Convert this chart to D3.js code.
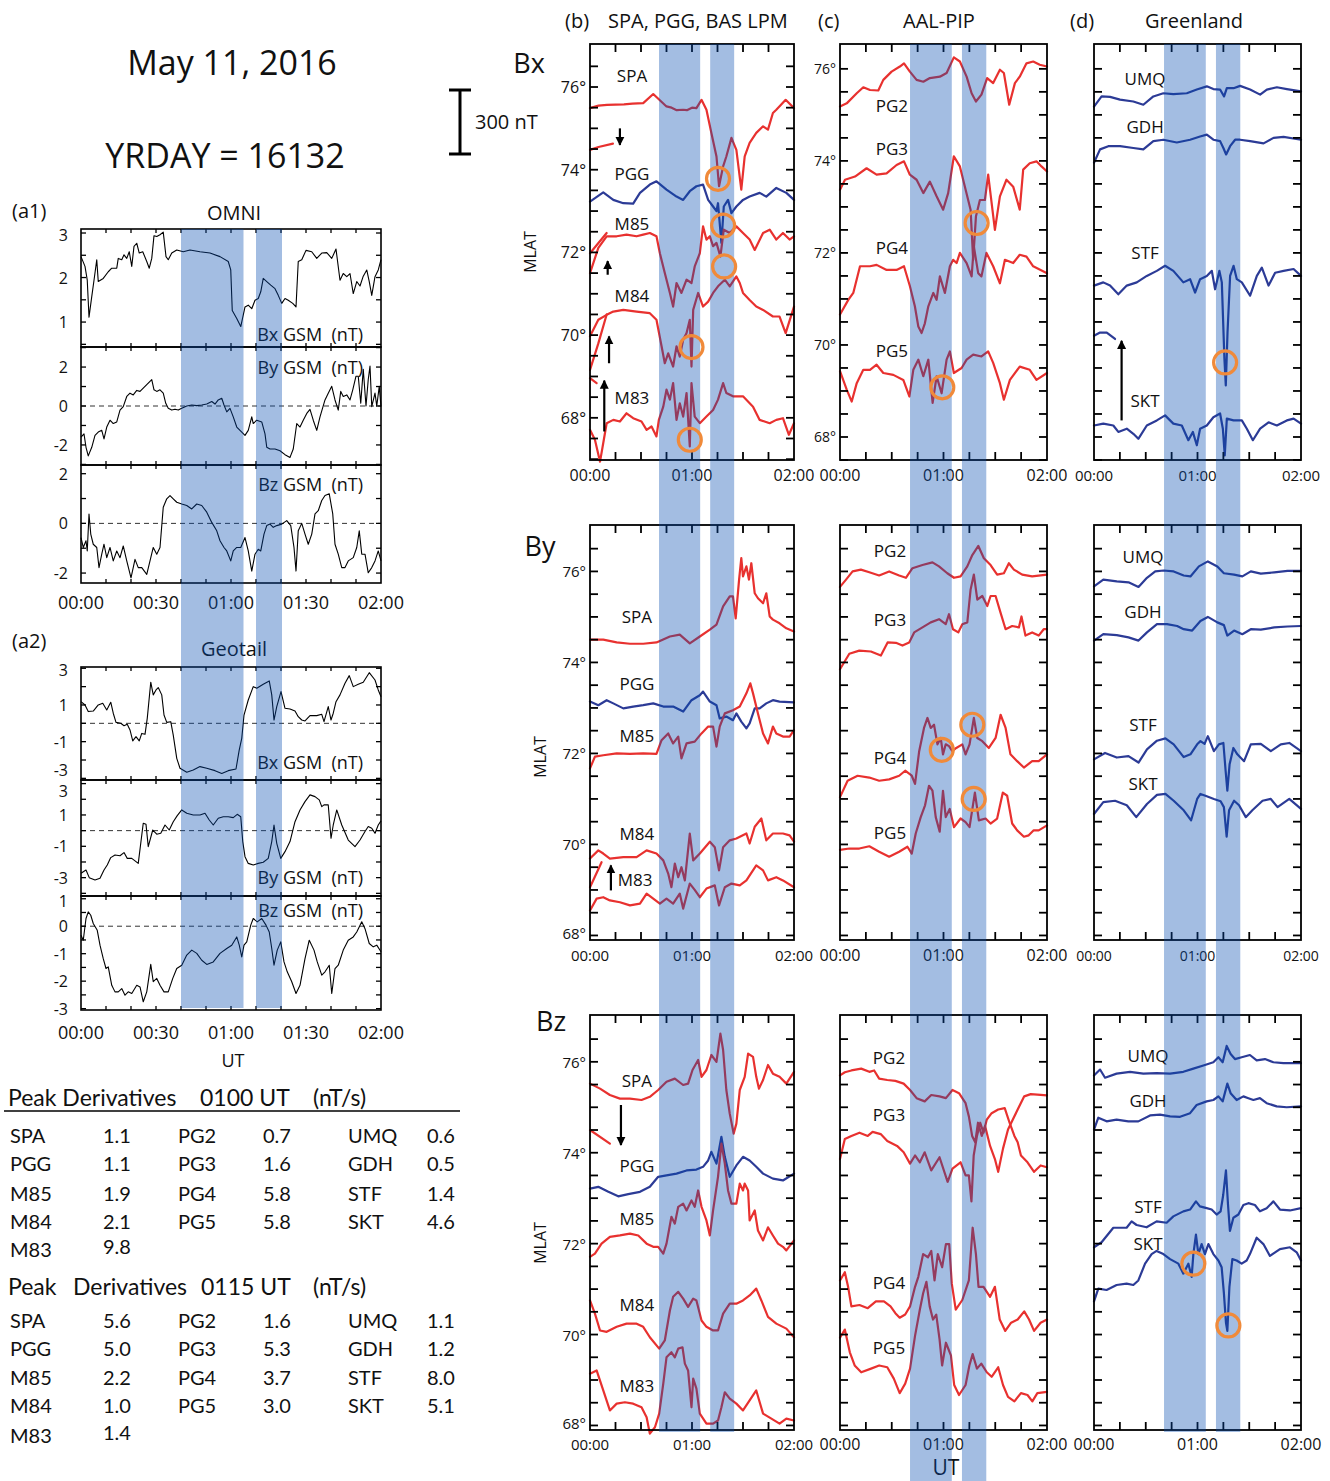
<!DOCTYPE html>
<html><head><meta charset="utf-8">
<script src="https://cdnjs.cloudflare.com/ajax/libs/d3/7.8.5/d3.min.js"></script>
<style>body{margin:0;background:#fff} text{white-space:pre}</style>
</head><body><script>
// ---------- time axes (minutes after 00:00 UT) ----------
const timeTicks = [0, 60, 120];
const timeTickLabels = ["00:00", "01:00", "02:00"];
const omniTicks = [0, 30, 60, 90, 120];
const omniTickLabels = ["00:00", "00:30", "01:00", "01:30", "02:00"];
const leftBands = [[40, 65], [70, 80.4]];
const rightBands = [[40.6, 64.8], [70.7, 84.8]];
const latLabelValues = [68, 70, 72, 74, 76];

// ---------- OMNI (a1) GSM components, nT ----------
const omniBx = [[0,2.47],[1.6,2.25],[2.5,1.94],[3.2,1.11],[4.3,1.57],[5.2,1.94],[6.3,2.4],[6.9,1.91],[8.9,1.98],[10.9,2.13],[12.3,2.21],[14.3,2.21],[14.9,2.43],[16.3,2.4],[17.2,2.51],[18.3,2.43],[19.3,2.58],[20.3,2.25],[21.2,2.7],[22.3,2.77],[23.3,2.55],[24.7,2.58],[26.3,2.36],[27.3,2.21],[28.3,2.43],[29.2,2.94],[30.3,2.92],[31.6,2.96],[32.9,3.02],[34,2.47],[34.9,2.4],[36.3,2.55],[38.3,2.62],[40.9,2.58],[43.6,2.62],[47.6,2.58],[51.6,2.55],[55.6,2.47],[58.9,2.36],[59.9,2.17],[60.5,1.26],[62.3,1.08],[63.9,0.9],[65.6,1.34],[66.9,1.38],[68.3,1.3],[69.6,1.49],[70.9,1.53],[71.9,1.68],[72.9,1.98],[74.3,1.91],[75.9,1.83],[77.6,1.75],[78.9,1.6],[80.3,1.42],[81.6,1.53],[82.9,1.49],[84.7,1.42],[86,1.34],[86.9,2.36],[88.3,2.4],[90,2.61],[92.3,2.58],[94.3,2.43],[96.3,2.55],[98.3,2.56],[100.3,2.43],[102,2.64],[103.6,1.94],[104.9,2.09],[106.3,2.02],[107.6,2.09],[108.9,1.64],[110.3,1.91],[111.6,1.81],[112.9,2.03],[114.3,2.17],[115.3,1.91],[116.3,1.6],[117.6,2.02],[118.9,2.17],[120,2.4]];
const omniBy = [[0,-1.6],[1.2,-1.43],[2,-2.12],[2.9,-2.56],[4.3,-2.12],[5.6,-1.51],[6.9,-1.34],[8.3,-1.25],[9.2,-1.69],[10.3,-1.08],[11.6,-0.73],[12.9,-0.9],[14.3,-0.82],[15.6,-0.21],[16.9,-0.03],[18.3,0.49],[19.6,0.66],[20.9,0.57],[22.3,0.8],[23.6,0.75],[24.9,0.92],[26.3,1.1],[27.6,1.27],[28.3,1.36],[29.2,0.83],[30.3,0.75],[31.6,0.83],[32.9,0.66],[33.9,0.14],[34.9,-0.12],[36.3,-0.21],[37.6,-0.17],[38.9,-0.21],[40.3,-0.12],[42.3,0],[44.3,0.05],[46.3,0.02],[48.3,0.05],[50.3,0.1],[52.3,0.23],[53.6,0.1],[54.9,0.31],[56.3,0.4],[57.2,0.05],[58.3,-0.3],[59.6,-0.12],[60.9,-0.56],[62.3,-1.08],[63.6,-1.25],[65.6,-1.51],[66.9,-1.25],[68.3,-0.56],[68.9,-0.9],[70.3,-0.73],[72.3,-0.82],[73.6,-1.43],[74.3,-2.12],[75.6,-2.21],[77.6,-2.21],[79.6,-2.3],[81.6,-2.5],[83.6,-2.64],[84.9,-2.21],[86.3,-0.9],[87.6,-1.08],[88.9,-0.73],[90.3,-0.38],[91.6,-0.17],[92.9,-0.73],[94.3,-1.25],[95.6,-0.56],[97.6,0.31],[98.9,0.66],[100.3,1.01],[101.6,0.31],[102.9,-0.21],[103.9,0.75],[104.9,0.49],[106.3,0.57],[107.6,0.31],[108.7,0.83],[110,1.53],[110.9,1.53],[111.9,0.14],[112.9,1.88],[114,0],[114.9,1.36],[115.6,2.05],[116.3,-0.03],[117.6,0.66],[118.3,0],[119.3,1.01],[120,-0.03]];
const omniBz = [[0,-0.57],[0.9,-0.97],[2,-0.7],[2.5,-1.11],[3.2,0.38],[3.9,-0.43],[4.9,-0.84],[6.3,-0.97],[7.2,-1.78],[8.3,-1.24],[9.2,-0.84],[10.3,-1.38],[11.6,-0.97],[12.9,-1.51],[14.3,-1.11],[15.6,-1.38],[16.9,-0.91],[18.3,-1.51],[20,-2.19],[21.6,-1.45],[22.9,-1.78],[24.3,-1.78],[26.3,-2.05],[27.6,-1.51],[28.9,-0.97],[30.3,-1.24],[31.6,-0.97],[32.9,0.65],[34.3,0.99],[35.6,1.12],[36.9,0.99],[38.3,0.85],[40.3,0.78],[42.3,0.72],[44.3,0.58],[46.3,0.78],[48.3,0.72],[50.3,0.45],[52.3,0.04],[54.3,-0.3],[55.6,-0.7],[57.2,-0.97],[58.3,-1.11],[59.9,-1.51],[60.9,-1.11],[62.3,-0.97],[63.9,-0.97],[65.6,-0.57],[66.9,-1.11],[68.3,-1.92],[69.6,-1.24],[70.9,-1.04],[71.9,-1.11],[73.2,-0.43],[74.3,-0.09],[75.6,-0.03],[76.9,-0.16],[78.3,-0.09],[80.3,-0.03],[82.3,0.11],[83.9,-0.09],[85.2,-0.97],[86,-1.92],[86.9,-0.3],[88.3,0],[89.6,-0.43],[90.9,-0.84],[92.3,-0.43],[93.6,0.38],[94.9,0.51],[96.3,0.92],[97.6,1.12],[99.3,1.19],[100.7,0.38],[101.6,-0.84],[102.9,-1.24],[104.3,-1.78],[105.6,-1.78],[106.9,-1.51],[108.9,-1.38],[110.3,-0.97],[111.3,-0.3],[112.3,-1.24],[113.6,-1.24],[114.9,-1.99],[116.3,-1.78],[117.6,-1.51],[118.9,-1.11],[120,-1.51]];

// ---------- Geotail (a2) GSM components, nT ----------
const geoBx = [[0,1.18],[1.6,1.0],[2.9,0.64],[4.9,0.67],[6.9,1.0],[8.7,1.09],[10.3,0.73],[11.9,1.15],[12.9,0.55],[14,0.05],[15.9,0],[17.2,-0.13],[18.5,-0.05],[19.6,-0.36],[20.7,-0.96],[22,-0.73],[23.3,-0.96],[24.3,-0.55],[25.6,-0.6],[26.5,0.27],[27.9,2.24],[28.9,1.55],[30,1.82],[30.9,1.95],[32.3,1.55],[33.2,0.45],[34.3,0.05],[35.9,0.09],[36.9,-0.64],[38.3,-1.91],[39.6,-2.45],[42.3,-2.67],[44.9,-2.55],[47.6,-2.36],[50.3,-2.45],[53.6,-2.58],[56.3,-2.73],[58.9,-2.58],[62,-2.49],[63.3,-1.45],[64.3,-0.82],[65.2,0.45],[66.9,1.27],[68.9,2.0],[70.3,1.91],[72.9,2.13],[75.3,2.31],[76.3,1.55],[77.2,0.18],[78.3,0.91],[80,1.73],[81.6,0.82],[83.6,0.78],[85.6,0.67],[86.9,0.36],[88.3,0.18],[89.6,0.13],[91.6,0.42],[94.3,0.42],[96.3,0.49],[97.2,0.09],[98.9,0.91],[100,0.18],[100.9,0.55],[102,1.18],[103.6,1.55],[105.6,2.18],[107.3,2.6],[108.9,2.0],[110.9,2.13],[112.9,2.24],[115.3,2.76],[117.6,2.36],[118.9,1.82],[120,1.45]];
const geoBy = [[0,-2.72],[2,-2.51],[3.3,-3.0],[5.6,-3.15],[7.6,-3.04],[9.2,-2.51],[10.5,-2.19],[11.9,-1.72],[13.6,-1.55],[15.6,-1.6],[17.2,-1.4],[18.5,-1.77],[20.3,-1.77],[22,-1.98],[22.9,-2.09],[24.9,0.47],[26,0.4],[26.9,-1.02],[28.7,0.04],[30.3,-0.23],[31.9,-0.17],[33.6,0.36],[35.3,0.04],[36.9,0.57],[38.5,0.96],[40.3,1.32],[42.3,1.11],[44.9,1.0],[47.6,1.0],[49.6,1.11],[51.3,0.68],[52.9,0.36],[54.9,0.79],[56.9,0.89],[58.9,0.89],[60.9,0.83],[62.5,1.04],[63.9,0.89],[64.7,-0.7],[65.6,-1.66],[66.9,-2.09],[68.9,-2.19],[70.9,-2.09],[72.9,-2.02],[74.9,-1.77],[76.3,-0.7],[77.2,0.36],[78.3,-0.81],[79.9,-1.77],[81.6,-1.34],[83.6,-0.7],[85.6,0.57],[87.6,1.32],[89.6,1.85],[91.6,2.28],[93.6,2.17],[95.3,1.96],[96.3,1.53],[97.2,1.64],[98.9,1.64],[100,-0.49],[100.9,0.36],[102.3,1.32],[104.3,0.36],[106.9,-0.6],[109.6,-1.02],[111.6,-0.6],[113.6,-0.06],[114.9,0.26],[116.3,0.15],[117.6,-0.17],[118.9,0.36],[120,0.62]];
const geoBz = [[0,-0.33],[0.9,-0.51],[2,0.28],[2.9,0.52],[3.9,0.4],[4.9,0.1],[6.5,-0.15],[7.6,-0.69],[8.9,-1.18],[10,-1.54],[10.9,-1.48],[12.3,-2.15],[13.6,-2.39],[14.9,-2.39],[16.3,-2.27],[17.6,-2.51],[18.9,-2.39],[20.3,-2.45],[22.3,-2.15],[23.6,-2.21],[24.9,-2.75],[26.3,-2.39],[27.9,-1.39],[28.9,-2.02],[30.3,-1.9],[31.6,-2.15],[33.2,-2.39],[34.9,-2.39],[36.7,-1.9],[38.3,-1.54],[40.3,-1.42],[42.3,-1.05],[44.3,-0.87],[46.3,-0.99],[48.3,-1.24],[50.3,-1.39],[52.9,-1.3],[55.6,-0.99],[58.3,-0.81],[60.3,-0.69],[62.3,-0.39],[63.3,-0.69],[64.3,-1.12],[65.2,-0.69],[66.3,-0.57],[67.9,0.04],[68.9,0.28],[70.5,0.16],[72.3,0.28],[74,0.04],[75.3,-0.21],[76.3,-0.81],[77.2,-1.42],[78.5,-0.87],[79.9,-0.57],[81.2,-1.3],[82.5,-1.66],[84.3,-2.02],[86,-2.45],[87.6,-2.15],[89.6,-1.18],[91.3,-0.51],[93.2,-0.87],[94.5,-1.3],[96.3,-1.78],[97.6,-1.66],[99.3,-1.42],[100.3,-2.45],[101.6,-1.54],[102.9,-1.42],[104.9,-0.87],[106.9,-0.51],[108.9,-0.39],[110.3,-0.21],[112.3,0.16],[113.6,-0.09],[115.3,-0.63],[116.9,-0.75],[118.3,-0.69],[120,-0.93]];

// ---------- Bx stack plots: [minute, MLAT-offset trace position] ----------
const bxSPA = [[0,75.49],[5,75.55],[10,75.57],[20,75.58],[25,75.6],[31.3,75.61],[37.2,75.83],[45,75.53],[48,75.5],[51,75.44],[54.8,75.45],[57,75.44],[60,75.5],[62.6,75.49],[65.6,75.69],[68.5,75.45],[71.4,74.89],[74.4,74.32],[75.9,73.6],[78.3,74.08],[80.2,74.32],[83.2,74.77],[86.1,74.48],[89,73.52],[91,74.32],[93.9,74.65],[97.8,74.89],[101.8,75.05],[104.7,74.97],[107.6,75.37],[109.6,75.45],[115.1,75.69],[120,75.49]];
const bxSPAseg = [[0,74.48],[5,74.55],[13.5,74.63]];
const bxPGG = [[0,73.23],[7.8,73.45],[13.7,73.27],[19.6,73.19],[25.4,73.18],[29.4,73.44],[35.2,73.64],[39.1,73.72],[45,73.52],[50.9,73.35],[54.8,73.27],[58.7,73.48],[62.6,73.6],[66.5,73.64],[69.5,73.27],[72.4,73.11],[74.4,73.0],[75.3,73.19],[77.3,72.23],[78.7,73.11],[81.2,73.27],[83.2,72.95],[86.1,73.11],[90,73.27],[93.9,73.35],[99.8,73.44],[103.7,73.35],[109.6,73.56],[115.5,73.44],[120,73.27]];
const bxM85 = [[0,71.5],[4.9,72.11],[9.8,72.39],[15.7,72.39],[21.5,72.43],[27.4,72.39],[31.3,72.43],[35.2,72.47],[39.1,72.39],[41.1,71.98],[44,71.5],[47,71.02],[48.9,70.69],[50.9,71.26],[53.8,71.02],[56.8,71.34],[59.7,71.26],[61.6,71.66],[64.6,71.98],[66.5,72.63],[68.5,72.31],[70.5,72.39],[72.4,72.15],[74.4,72.23],[76.7,71.9],[78.7,72.55],[82.2,72.47],[86.1,72.63],[90,72.47],[93.9,72.31],[96.9,72.06],[101.8,72.47],[105.7,72.55],[109.6,72.31],[113.5,72.47],[117.4,72.31],[120,72.39]];
const bxM85seg = [[0,71.98],[9.8,72.47]];
const bxM84 = [[0,69.97],[4.9,70.37],[9.8,70.49],[13.7,70.57],[19.6,70.61],[27.4,70.57],[35.2,70.53],[39.1,70.37],[42.1,69.73],[44,69.32],[46,69.56],[48.9,69.24],[50.9,69.73],[52.8,69.48],[54.8,69.89],[56.8,70.05],[58.7,70.37],[59.7,69.24],[60.7,70.61],[63.6,71.02],[66.5,70.69],[69.5,70.81],[72.4,71.02],[75.3,71.18],[79.3,71.34],[82.2,71.18],[86.1,71.42],[88.1,71.26],[90,71.02],[93.9,70.85],[97.8,70.69],[101.8,70.61],[107.6,70.45],[111.5,70.45],[115.1,70.05],[120,70.69]];
const bxM84seg = [[0,69.16],[4.9,69.8],[9.8,70.5]];
const bxM83 = [[0,67.71],[2.9,67.47],[5.9,66.94],[7.8,67.39],[9.8,67.87],[13.7,67.95],[17.6,67.91],[21.5,68.11],[25.4,67.99],[30.3,67.91],[33.3,67.71],[36.2,67.79],[39.1,67.55],[40.5,67.95],[43.1,68.27],[45,68.68],[47,68.44],[48.9,68.84],[50.9,67.95],[52.8,68.35],[54.8,68.03],[56.8,68.6],[58.7,67.31],[59.7,68.84],[61.6,68.03],[64.6,67.87],[68.5,68.03],[72.4,68.19],[75.3,68.44],[78.3,68.84],[80.2,68.6],[84.1,68.52],[90,68.52],[95.9,68.27],[99.8,67.95],[105.7,67.87],[109.6,67.95],[113.5,67.99],[117,67.59],[120,67.87]];
const bxM83seg = [[0,68.96],[3.9,68.84]];
const bxPG2 = [[0,75.18],[3.9,75.25],[9.7,75.47],[13.5,75.6],[17.4,75.54],[22.2,75.53],[25.1,75.76],[29.9,75.94],[34.7,76.05],[37.1,76.12],[40.5,75.94],[44.4,75.76],[48.3,75.72],[52.1,75.8],[57.9,75.83],[61.8,75.91],[66,76.25],[69.5,76.16],[73.4,75.83],[76.3,75.47],[78.8,75.29],[82,75.44],[85.3,75.8],[88.8,75.69],[92.7,75.98],[95,75.91],[98.1,75.22],[101.4,75.69],[104.2,75.83],[108.1,76.12],[112,76.16],[115.8,76.09],[120,76.05]];
const bxPG3 = [[0,73.37],[2.9,73.59],[8.7,73.66],[15.4,73.84],[21.2,73.7],[27,73.73],[32.8,73.91],[37.1,73.99],[40.5,73.7],[44.4,73.59],[48.3,73.3],[52.1,73.55],[56,73.23],[59.8,72.94],[62.7,73.3],[66,74.1],[69.5,73.88],[72.4,73.44],[75.7,72.94],[77.2,71.85],[78.8,72.79],[81.1,73.15],[84,73.15],[85.9,73.7],[89.8,72.5],[92.7,73.23],[96.5,73.59],[100.4,73.44],[104.2,72.94],[106.2,73.81],[110,73.95],[113.9,73.99],[116.8,73.88],[120,73.77]];
const bxPG4 = [[0,70.66],[4.8,70.98],[7.7,71.13],[11.6,71.71],[17.4,71.71],[21.2,71.74],[27,71.63],[32.8,71.63],[37.1,71.71],[40.5,71.28],[43.4,70.84],[45.4,70.4],[47.3,70.26],[49.2,70.47],[51.2,70.84],[54.1,71.13],[56,70.98],[57.9,71.49],[60.8,71.13],[63.7,71.71],[65.6,71.85],[67.6,71.78],[69.5,72.0],[73.4,71.78],[76.3,71.49],[77.6,72.14],[80.1,71.56],[82,71.49],[84.9,72.0],[88.8,71.71],[92.7,71.34],[95.6,71.85],[100.4,71.78],[104.2,71.96],[108.1,71.92],[112,71.71],[120,71.56]];
const bxPG5 = [[0,69.43],[3.9,69.03],[6.8,68.77],[9.7,69.17],[13.5,69.46],[17.4,69.46],[21.2,69.57],[25.1,69.39],[30.9,69.35],[36.7,69.24],[40.2,68.88],[42.5,69.46],[45.4,69.68],[48.3,69.32],[51.2,69.68],[53.7,68.74],[56,69.32],[58.9,68.95],[61.8,69.68],[63.7,69.86],[66,69.39],[70.5,69.5],[73.4,69.68],[77.2,69.79],[82,69.75],[85.9,69.86],[88.8,69.61],[92.7,69.17],[95,68.81],[98.5,69.24],[104.2,69.53],[110,69.46],[113.9,69.24],[120,69.39]];
const bxUMQ = [[0,75.18],[4.4,75.4],[9.3,75.39],[15.1,75.33],[22.8,75.29],[28.6,75.22],[34.4,75.4],[40.2,75.47],[46,75.45],[53.8,75.47],[59.6,75.55],[65.4,75.62],[69.2,75.56],[73.1,75.55],[75.4,75.4],[77,75.58],[80.9,75.58],[84.7,75.63],[90.5,75.55],[96.3,75.44],[100.2,75.55],[106,75.6],[111.8,75.56],[120,75.51]];
const bxGDH = [[0,73.96],[3.5,74.25],[8.3,74.32],[15.1,74.32],[22.8,74.28],[28.6,74.25],[34.4,74.43],[40.2,74.46],[48,74.4],[55.7,74.46],[61.5,74.53],[65.4,74.57],[69.2,74.46],[73.1,74.43],[75,74.28],[76.6,74.14],[78.9,74.32],[81.8,74.46],[84.7,74.46],[90.5,74.43],[98.3,74.38],[104.1,74.5],[109.9,74.52],[120,74.46]];
const bxSTF = [[0,71.29],[5.4,71.36],[9.3,71.29],[14.1,71.1],[19,71.29],[24.8,71.36],[30.6,71.5],[36.4,71.61],[41.2,71.72],[46,71.61],[51.8,71.36],[55.7,71.43],[58.6,71.14],[61.5,71.43],[65.4,71.5],[68.3,71.61],[70.2,71.21],[72.7,71.61],[74.1,71.36],[75.6,69.7],[76.4,69.12],[77.4,70.27],[78.9,71.5],[80.9,71.72],[82.8,71.43],[85.7,71.36],[90.5,71.07],[94.4,71.5],[97.3,71.68],[101.2,71.29],[105,71.57],[109.9,71.61],[115.7,71.65],[120,71.5]];
const bxSKTseg = [[0,70.2],[3.5,70.27],[7.4,70.27],[12.2,70.13]];
const bxSKT = [[0,68.25],[5.4,68.29],[11.2,68.25],[14.1,68.11],[19,68.18],[22.8,68.07],[25.7,67.96],[30.6,68.25],[36.4,68.36],[41.2,68.47],[46,68.29],[50.9,68.25],[54.7,67.93],[57.3,68.11],[59.6,67.82],[61.5,68.18],[65.4,68.25],[69.2,68.43],[73.1,68.51],[74.7,68.18],[75.8,67.6],[77,68.4],[80.9,68.36],[85.7,68.36],[88.6,68.18],[92.1,67.93],[96.3,68.18],[101.2,68.32],[106,68.25],[111.8,68.36],[115.7,68.4],[120,68.29]];

// ---------- By stack plots ----------
const bySPA = [[0,74.5],[7.8,74.5],[15.7,74.44],[23.5,74.41],[31.3,74.41],[39.1,74.44],[47,74.57],[52.8,74.61],[58.7,74.42],[64.6,74.57],[70.5,74.72],[74.4,74.83],[78.3,75.23],[82.2,75.45],[84.1,75.45],[85.7,74.97],[87.7,75.82],[89,76.29],[90,75.89],[92,76.11],[93.5,75.82],[94.9,76.18],[96.9,75.52],[98.8,75.41],[101.8,75.3],[103.7,75.52],[105.7,75.01],[107.6,74.94],[111.5,74.86],[115.5,74.75],[120,74.68]];
const byPGG = [[0,73.14],[4.9,73.06],[9.8,73.17],[13.7,73.1],[19.6,72.99],[25.4,73.03],[31.3,73.06],[37.2,73.1],[43.1,73.03],[48.9,73.03],[54.8,72.92],[59.7,73.17],[64.6,73.28],[66.5,73.36],[70.5,73.14],[74.4,73.06],[76.3,72.77],[80.2,72.81],[84.1,72.73],[86.1,72.88],[89,72.7],[92,72.55],[93.9,72.66],[96.9,72.99],[99.8,72.99],[103.7,73.1],[107.6,73.17],[111.5,73.14],[120,73.12]];
const byM85 = [[0,71.67],[2.9,71.93],[7.8,71.96],[15.7,72.0],[23.5,71.99],[31.3,72.0],[39.1,71.99],[42.1,72.29],[46,72.44],[48.9,72.22],[51.9,72.37],[53.8,71.89],[56.8,72.22],[61.6,72.26],[65.6,72.44],[69.5,72.59],[72.4,72.59],[74.4,72.15],[76.3,72.59],[79.3,72.88],[84.1,72.95],[88.1,73.03],[92,73.32],[94.3,73.54],[95.9,73.32],[98.8,72.88],[101.8,72.44],[104.7,72.22],[107.6,72.59],[109.6,72.44],[113.5,72.37],[117.4,72.37],[120,72.51]];
const byM84 = [[0,69.69],[4.9,69.87],[7.8,69.8],[11.7,69.69],[19.6,69.72],[27.4,69.72],[33.3,69.87],[39.1,69.8],[43.1,69.65],[46,69.36],[47.9,69.06],[49.9,69.58],[51.9,69.28],[53.8,69.5],[55.8,69.21],[58.7,70.24],[60.7,69.65],[64.6,69.8],[70.5,70.06],[73.4,69.94],[75.9,69.43],[78.3,69.94],[82.2,70.09],[86.1,70.13],[92,70.24],[93.9,70.02],[96.9,70.39],[100.8,70.57],[103.7,70.09],[107.6,70.24],[113.5,70.24],[117.4,70.2],[120,70.06]];
const byM83seg = [[0,69.06],[6.8,69.61]];
const byM83 = [[0,68.55],[3.9,68.81],[7.8,68.84],[11.7,68.77],[17.6,68.73],[23.5,68.66],[29.4,68.7],[33.3,68.92],[37.2,68.81],[41.1,68.7],[45,68.81],[48.9,68.7],[52.8,68.92],[54.8,68.59],[58.7,69.14],[61.6,69.0],[64.6,68.84],[68.5,69.03],[73.4,69.1],[75.9,68.66],[79.3,69.06],[83.2,69.14],[88.1,69.1],[92,69.21],[97.8,69.54],[101.8,69.43],[104.7,69.21],[109.6,69.28],[113.5,69.21],[120,69.06]];
const byPG2 = [[0,75.66],[3.5,75.82],[7.3,76.0],[12.1,76.04],[17,75.98],[22.7,75.91],[28.5,76.0],[34.3,75.91],[38.2,75.86],[42,76.07],[47.8,76.14],[53.6,76.2],[57.4,76.11],[62.2,75.96],[66.1,75.86],[69.9,75.89],[73.8,76.11],[76.7,76.36],[80.2,76.56],[83.4,76.29],[87.3,76.14],[91.1,75.93],[95,75.96],[97.9,76.18],[100.8,76.04],[105.6,75.93],[111.4,75.89],[120,75.93]];
const byPG3 = [[0,73.85],[5.4,74.19],[11.2,74.26],[17.9,74.24],[23.7,74.15],[27.6,74.44],[32.4,74.43],[36.2,74.37],[40.1,74.44],[43,74.66],[47.8,74.77],[52.6,74.88],[57.4,74.95],[61.3,74.84],[63.2,75.06],[65.5,74.73],[68.6,74.66],[70.9,74.84],[73.8,74.88],[75.7,75.6],[77.6,75.93],[79.6,75.38],[82.5,75.46],[85.4,75.24],[87.3,75.46],[90.2,75.46],[93.1,75.09],[96,74.73],[99.8,74.8],[103.7,74.77],[105.2,75.01],[107.5,74.59],[111.4,74.66],[115.2,74.59],[118.1,74.73],[120,74.73]];
const byPG4 = [[0,71.04],[4.4,71.4],[10.2,71.51],[17,71.47],[22.7,71.4],[28.5,71.43],[34.3,71.51],[37.8,71.62],[41.6,71.51],[43.5,71.33],[45.9,72.05],[48.7,72.56],[50.7,72.78],[52.6,72.56],[54.5,72.63],[56.5,72.2],[58.4,72.34],[59.7,71.98],[61.3,72.2],[63.2,72.16],[65.1,72.05],[67.4,72.12],[70.9,72.2],[72.8,71.98],[75.1,72.2],[77.6,72.78],[79.6,72.34],[82.5,72.27],[86.3,72.12],[90.2,72.34],[93.1,72.85],[96,72.56],[98.8,71.98],[102.7,71.83],[106.6,71.69],[111.4,71.83],[115.2,71.83],[120,71.98]];
const byPG5 = [[0,69.88],[5.4,69.91],[11.2,69.91],[17,69.96],[22.7,69.84],[28.5,69.73],[34.3,69.84],[39.1,69.95],[41.6,69.8],[43.9,70.24],[46.8,70.6],[49.3,70.86],[51.6,71.29],[53.6,71.18],[55.5,70.6],[57.8,70.28],[59.7,71.18],[61.3,70.6],[63.6,70.78],[66.1,70.38],[69.9,70.57],[72.8,70.49],[75.1,70.38],[78.2,71.14],[80.5,70.53],[84.4,70.57],[87.3,70.46],[91.1,70.57],[94.4,71.14],[96.9,71.07],[99.8,70.46],[102.7,70.31],[106.6,70.17],[109.4,70.2],[112.3,70.31],[115.2,70.31],[120,70.42]];
const byUMQ = [[0,75.67],[5.4,75.82],[13.2,75.78],[20,75.76],[25.8,75.66],[30.7,75.86],[35.5,76.0],[40.4,76.02],[46.2,76.0],[52,75.91],[55.9,75.89],[60.8,76.11],[66,76.22],[71.5,76.11],[75.3,75.96],[81.2,75.93],[86,75.89],[90.9,76.0],[96.7,75.95],[104.5,75.98],[112.2,76.01],[120,76.01]];
const byGDH = [[0,74.48],[5.4,74.62],[13.2,74.6],[20,74.55],[25.8,74.48],[30.7,74.66],[36.5,74.84],[42.3,74.84],[48.2,74.8],[52,74.73],[56.9,74.7],[61.7,74.91],[66,75.0],[71.5,74.88],[75.3,74.82],[77.3,74.59],[81.2,74.7],[86,74.62],[90.9,74.73],[96.7,74.72],[104.5,74.77],[112.2,74.79],[120,74.8]];
const bySTF = [[0,71.87],[6.4,72.01],[13.2,71.91],[20,71.94],[25.8,71.8],[30.7,72.09],[36.5,72.28],[41.4,72.33],[46.2,72.2],[52,71.92],[55.9,71.98],[59.8,72.2],[61.7,72.27],[64.1,72.21],[66,72.38],[69.5,72.05],[72.4,72.2],[75,72.23],[76.3,71.62],[77.3,71.18],[78.6,71.76],[80.8,72.12],[83.1,71.98],[87,71.83],[90.9,72.2],[96.7,72.21],[102.5,72.05],[108.3,72.2],[113.2,72.23],[120,72.05]];
const bySKT = [[0,70.67],[5.4,70.93],[12.2,70.96],[19,70.86],[24.5,70.6],[30.7,70.89],[36.5,71.09],[41.4,71.11],[46.2,70.96],[52,70.75],[56.3,70.53],[59.8,71.0],[61.7,71.11],[64.6,71.07],[69.5,71.0],[73.4,70.95],[75.3,70.82],[76.9,70.17],[78.3,70.75],[81.2,70.96],[84.1,70.86],[88,70.6],[91.8,70.75],[97.7,70.96],[102.5,71.0],[106.4,70.82],[113.2,71.0],[120,70.78]];

// ---------- Bz stack plots ----------
const bzSPA = [[0,75.52],[5.9,75.41],[11.7,75.27],[17.6,75.19],[23.5,75.19],[30.3,75.16],[35.2,75.23],[40.1,75.38],[45,75.56],[49.9,75.63],[54.8,75.49],[57.7,75.52],[60.3,75.82],[63.6,76.04],[65.6,75.67],[68.5,75.82],[71.4,76.15],[74.4,76.0],[76.7,76.62],[78.3,76.26],[80.2,75.38],[82.2,74.86],[84.5,74.42],[86.1,74.64],[88.1,75.38],[91,75.67],[93,76.18],[95.9,76.11],[97.8,75.67],[99.4,75.41],[101.8,75.6],[104.7,75.93],[107.6,75.74],[111.5,75.67],[115.5,75.52],[120,75.78]];
const bzSPAseg = [[0,74.5],[11.7,74.2]];
const bzPGG = [[0,73.21],[4.9,73.25],[10.8,73.14],[16.6,73.04],[22.5,73.09],[29.4,73.14],[35.2,73.25],[40.1,73.47],[45,73.5],[50.9,73.54],[56.8,73.61],[62.6,73.63],[66.5,73.69],[69.5,73.83],[71.4,74.02],[74.4,73.76],[77.3,74.35],[79.3,73.91],[82.2,73.47],[86.1,73.72],[90,73.91],[93.9,73.83],[97.8,73.69],[101.8,73.54],[107.6,73.43],[113.5,73.39],[120,73.54]];
const bzM85 = [[0,71.71],[2.9,71.78],[6.8,72.0],[11.7,72.15],[17.6,72.18],[23.5,72.22],[28.4,72.18],[33.3,72.0],[37.2,71.93],[40.1,71.93],[43.1,71.78],[45,72.0],[47.9,72.59],[49.9,72.44],[51.9,72.81],[54.8,72.88],[56.8,72.73],[59.7,72.95],[61.6,72.81],[63.6,73.17],[65.6,72.81],[68.5,72.51],[70.5,72.18],[72.4,72.73],[75.3,73.47],[77.3,74.2],[79.3,73.76],[81.2,73.17],[83.2,72.88],[86.1,72.88],[88.1,73.32],[90,73.17],[91,73.32],[93,73.17],[93.9,72.51],[96.9,72.73],[98.8,72.29],[101.8,72.07],[104.7,72.36],[107.6,72.18],[110.6,72.0],[113.5,71.93],[115.5,71.85],[120,72.07]];
const bzM84 = [[0,70.75],[2.9,70.46],[5.9,70.09],[9.8,70.06],[15.7,70.17],[21.5,70.24],[27.4,70.24],[31.3,70.17],[35.2,69.94],[40.7,69.69],[44,69.87],[47,70.53],[48.9,70.83],[51.9,70.94],[54.8,70.79],[57.7,70.61],[60.7,70.79],[62.6,70.75],[65.6,70.31],[68.5,70.17],[72.4,70.09],[75.3,70.09],[78.3,70.46],[82.2,70.68],[86.1,70.68],[90,70.75],[93.9,70.86],[97.8,71.01],[100.8,70.75],[104.7,70.39],[109.6,70.24],[115.5,70.13],[120,69.94]];
const bzM83 = [[0,69.14],[3.9,69.21],[7.8,68.77],[11.7,68.33],[15.7,68.48],[20.5,68.51],[25.4,68.48],[30.3,68.4],[33.3,68.18],[35.2,67.82],[38.2,67.96],[40.7,68.26],[43.1,68.92],[45,69.5],[47.9,69.61],[49.9,69.5],[51.9,69.69],[54.4,69.72],[55.8,69.36],[57.7,69.21],[59.7,68.4],[60.7,69.03],[62.6,68.81],[64.6,68.26],[68.5,68.04],[72.4,68.04],[75.3,68.11],[77.3,68.4],[79.3,68.73],[82.2,68.59],[86.1,68.48],[90,68.33],[93.9,68.55],[97.8,68.77],[101.8,68.26],[106.7,68.15],[111.5,68.04],[115.5,68.15],[120,68.11]];
const bzPG2 = [[0,75.7],[2.8,75.77],[6.6,75.81],[12.3,75.85],[17,75.78],[19.8,75.81],[22.7,75.63],[27.4,75.6],[32.1,75.58],[36.9,75.52],[40.6,75.38],[44.4,75.2],[49.1,75.13],[52.9,75.27],[57.7,75.24],[61.4,75.2],[65.2,75.38],[69,75.31],[72.8,75.09],[74.7,74.8],[76.6,74.37],[78.4,74.23],[80,74.66],[82.2,74.37],[84.1,74.59],[87,74.15],[89.8,73.86],[91.7,73.58],[94.5,74.09],[97.4,74.51],[100.2,74.73],[103,74.95],[106.8,75.24],[110.6,75.29],[114.4,75.28],[120,75.26]];
const bzPG3 = [[0,73.86],[2.8,74.3],[6.6,74.37],[11.3,74.44],[16.1,74.37],[18.9,74.46],[23.6,74.41],[27.4,74.26],[33.1,74.15],[36.9,74.01],[40.6,73.76],[43.5,73.94],[46.3,73.79],[49.1,74.01],[52.9,73.61],[57.7,73.9],[62.4,73.36],[65.2,73.65],[69.9,73.79],[72.8,73.5],[74.7,73.5],[76.2,72.93],[77.5,73.94],[79.4,74.37],[81.3,74.66],[83.2,74.44],[85.1,74.73],[87.9,74.87],[91.7,74.95],[95.5,74.98],[98.3,74.66],[101.1,74.37],[103,74.23],[104.9,73.94],[108.7,73.79],[112.5,73.58],[116.3,73.72],[120,73.68]];
const bzPG4 = [[0,71.19],[2.8,71.37],[4.7,71.05],[6.6,70.62],[11.3,70.65],[16.1,70.58],[20.8,70.73],[25.5,70.73],[29.3,70.62],[32.1,70.47],[34.6,70.37],[37.8,70.44],[40.6,70.62],[43.5,71.05],[45.4,71.27],[48.2,71.77],[51,71.7],[52.9,71.84],[54.8,71.19],[56.7,71.77],[59.2,71.48],[61.4,71.99],[63.3,71.99],[64.8,71.12],[67.1,70.55],[70.9,70.76],[74.7,71.19],[76.9,72.35],[78.8,71.77],[80.3,71.05],[83.2,71.05],[87,70.83],[89.8,71.05],[92.6,70.33],[95.8,70.08],[99.2,70.26],[103,70.33],[106.8,70.51],[109.6,70.33],[112.5,70.08],[116.3,70.26],[120,70.33]];
const bzPG5 = [[0,69.93],[2.8,70.11],[5.7,69.61],[8.5,69.32],[12.3,69.17],[18,69.25],[22.7,69.32],[27.4,69.28],[31.2,69.03],[34.6,68.71],[37.8,68.92],[40.6,69.25],[43.5,69.97],[46.3,70.55],[48.2,70.91],[50.1,71.16],[52,70.62],[53.9,70.33],[55.8,70.44],[57.7,69.9],[59.2,69.32],[61.4,69.82],[64.3,69.54],[66.2,68.89],[69,68.67],[72.8,68.89],[75,69.32],[76.9,69.57],[79.4,69.25],[81.9,69.36],[85.1,69.17],[87.9,69.07],[91.7,69.28],[94.5,68.89],[97.4,68.63],[101.1,68.53],[104.9,68.71],[108.7,68.67],[111.5,68.53],[114.4,68.71],[120,68.74]];
const bzUMQ = [[0,75.7],[3.5,75.83],[6.4,75.65],[13.1,75.74],[20.9,75.78],[28.6,75.74],[36.3,75.75],[44.1,75.74],[51.8,75.78],[57.6,75.85],[63.4,75.92],[69.2,75.99],[72.1,76.1],[74.6,75.99],[76.9,76.35],[79.2,76.17],[81.7,76.06],[85.6,76.1],[90.4,76.15],[94.3,76.03],[99.1,76.06],[104,75.99],[109.8,75.97],[120,75.97]];
const bzGDH = [[0,74.51],[2.5,74.77],[7.3,74.69],[13.1,74.73],[19.9,74.69],[25.7,74.69],[32.5,74.82],[38.3,74.84],[44.1,74.8],[49.9,74.79],[55.7,74.87],[59.5,75.05],[65.3,75.13],[69.2,75.16],[72.1,75.24],[74.6,75.13],[77.3,75.52],[79.2,75.31],[82.7,75.16],[86.6,75.24],[89.5,75.2],[92.4,75.16],[96.2,75.2],[100.1,75.09],[105.9,75.02],[111.7,75.0],[120,75.02]];
const bzSTF = [[0,71.92],[4.4,72.03],[11.2,72.35],[18.9,72.35],[21.8,72.49],[24.7,72.41],[30.5,72.36],[36.3,72.49],[42.1,72.46],[46,72.6],[51.8,72.71],[55.7,72.75],[59.1,72.93],[61.4,72.82],[65.3,72.78],[68.2,72.75],[71.1,72.64],[73.4,72.71],[74.9,73.07],[76.5,73.61],[77.7,72.85],[78.8,72.28],[80.8,72.57],[83.7,72.64],[86.6,72.85],[89.5,72.89],[93.3,72.85],[96.2,72.71],[100.1,72.78],[104,72.93],[107.8,72.75],[113.6,72.73],[120,72.78]];
const bzSKT = [[0,70.73],[2.5,71.01],[7.3,70.98],[13.1,71.09],[18.9,71.12],[22.8,71.09],[25.7,71.19],[29.6,71.56],[33.4,71.77],[36.3,71.84],[40.2,71.77],[44.1,71.66],[48.9,71.56],[51.8,71.34],[54.7,71.56],[56.6,71.27],[57.6,71.77],[59.1,72.2],[60.5,71.77],[62.4,71.99],[64.3,71.77],[66.3,71.99],[69.2,71.77],[72.1,71.63],[74,71.48],[75.3,70.91],[76.5,70.26],[77.3,70.08],[78.5,71.05],[80.2,71.66],[82.7,71.63],[85.6,71.56],[88.5,71.63],[90.4,71.77],[94.3,72.13],[98.2,71.99],[102,71.73],[107.8,71.88],[113.6,71.92],[117.5,71.81],[120,71.63]];

// ---------- Peak derivative tables (nT/s) ----------
const stationsB = ["SPA", "PGG", "M85", "M84", "M83"];
const stationsC = ["PG2", "PG3", "PG4", "PG5"];
const stationsD = ["UMQ", "GDH", "STF", "SKT"];
const peak0100B = [1.1, 1.1, 1.9, 2.1, 9.8];
const peak0100C = [0.7, 1.6, 5.8, 5.8];
const peak0100D = [0.6, 0.5, 1.4, 4.6];
const peak0115B = [5.6, 5.0, 2.2, 1.0, 1.4];
const peak0115C = [1.6, 5.3, 3.7, 3.0];
const peak0115D = [1.1, 1.2, 8.0, 5.1];

// ---------- drawing ----------
const RED = "#e8312f", BLUE = "#2c3b96", ORANGE = "#f08a3a";
const FONT = "'Open Sans', 'Noto Sans', sans-serif";
const svg = d3.select("body").append("svg").attr("width", 1330).attr("height", 1481)
  .style("font-family", FONT);
svg.append("defs").append("marker").attr("id", "head").attr("viewBox", "0 0 10 10")
  .attr("refX", 9).attr("refY", 5).attr("markerWidth", 9).attr("markerHeight", 10)
  .attr("markerUnits", "userSpaceOnUse").attr("orient", "auto")
  .append("path").attr("d", "M0,0 L10,5 L0,10 z").attr("fill", "#000");

const gBase = svg.append("g");
const gBand = svg.append("g");
const gTop = svg.append("g");

function txt(g, x, y, s, size, anchor = "start", fam = FONT) {
  return g.append("text").attr("x", x).attr("y", y).attr("font-size", size)
    .attr("text-anchor", anchor).attr("dominant-baseline", "central")
    .attr("font-family", fam).attr("fill", "#111").text(s);
}
function seg(g, x1, y1, x2, y2, w = 1.5) {
  g.append("line").attr("x1", x1).attr("y1", y1).attr("x2", x2).attr("y2", y2)
    .attr("stroke", "#000").attr("stroke-width", w);
}

// header texts
txt(gBase, 232, 62, "May 11, 2016", 34, "middle");
txt(gBase, 225, 155, "YRDAY = 16132", 34, "middle");
// 300 nT scale bar
seg(gBase, 460, 90, 460, 154, 3);
seg(gBase, 449, 90, 471, 90, 3);
seg(gBase, 449, 154, 471, 154, 3);
txt(gBase, 475, 121, "300 nT", 20);

// ---------- left: OMNI and Geotail ----------
const xL = d3.scaleLinear().domain([0, 120]).range([81, 381]);
// labels: [value, pixel nudge]
const leftGroups = [
  { tag: "(a1)", title: "OMNI", titleY: 212, tagY: 210, axisY: 602, panels: [
    { y0: 229, y1: 347, dom: [0.44, 3.09], step: 0.5, labels: [[1, 0], [2, 0], [3, 2]], zero: false, data: omniBx, name: "Bx GSM  (nT)", ny: 334 },
    { y0: 347, y1: 465, dom: [-3.03, 3.03], step: 1, labels: [[2, 0], [0, 0], [-2, 0]], zero: true, data: omniBy, name: "By GSM  (nT)", ny: 367 },
    { y0: 465, y1: 583, dom: [-2.4, 2.35], step: 1, labels: [[2, 0], [0, 0], [-2, 0]], zero: true, data: omniBz, name: "Bz GSM  (nT)", ny: 484 }]},
  { tag: "(a2)", title: "Geotail", titleY: 648, tagY: 640, axisY: 1032, panels: [
    { y0: 667, y1: 780, dom: [-3.09, 3.07], step: 1, labels: [[3, 2], [1, 0], [-1, 0], [-3, -8]], zero: true, data: geoBx, name: "Bx GSM  (nT)", ny: 762 },
    { y0: 780, y1: 896, dom: [-4.17, 3.23], step: 1, labels: [[3, 7], [1, 0], [-1, 0], [-3, 0]], zero: true, data: geoBy, name: "By GSM  (nT)", ny: 877 },
    { y0: 896, y1: 1010, dom: [-3.05, 1.1], step: 0.5, labels: [[1, 2], [0, 0], [-1, 0], [-2, 0], [-3, 0]], zero: true, data: geoBz, name: "Bz GSM  (nT)", ny: 910 }]}
];
leftGroups.forEach(grp => {
  txt(gBase, 12, grp.tagY, grp.tag, 20);
  txt(gBase, 234, grp.titleY, grp.title, 20, "middle");
  grp.panels.forEach(p => {
    const y = d3.scaleLinear().domain(p.dom).range([p.y1, p.y0]);
    const g = gBase.append("g");
    if (p.zero) g.append("line").attr("x1", 81).attr("x2", 381).attr("y1", y(0)).attr("y2", y(0))
      .attr("stroke", "#333").attr("stroke-width", 1).attr("stroke-dasharray", "5,4");
    g.append("path").datum(p.data).attr("fill", "none").attr("stroke", "#000").attr("stroke-width", 1.1)
      .attr("stroke-linejoin", "round")
      .attr("d", d3.line().x(d => xL(d[0])).y(d => y(d[1])));
    g.append("rect").attr("x", 81).attr("y", p.y0).attr("width", 300).attr("height", p.y1 - p.y0)
      .attr("fill", "none").attr("stroke", "#000").attr("stroke-width", 1.6);
    const vt = d3.range(Math.ceil(p.dom[0] / p.step) * p.step, p.dom[1], p.step);
    vt.forEach(v => { seg(g, 81, y(v), 86, y(v), 1.3); seg(g, 376, y(v), 381, y(v), 1.3); });
    d3.range(10, 120, 10).forEach(t => { seg(g, xL(t), p.y0, xL(t), p.y0 + 4, 1.3); seg(g, xL(t), p.y1 - 4, xL(t), p.y1, 1.3); });
    p.labels.forEach(([v, dy]) => txt(g, 68, y(v) + dy, String(v), 16, "end"));
    txt(g, 363, p.ny, p.name, 18, "end");
  });
  omniTicks.forEach((t, i) => txt(gBase, xL(t), grp.axisY, omniTickLabels[i], 18, "middle"));
});
txt(gBase, 233, 1060, "UT", 18, "middle");
leftBands.forEach(([a, b]) => gBand.append("rect").attr("x", xL(a)).attr("width", xL(b) - xL(a))
  .attr("y", 229).attr("height", 1008 - 229).attr("fill", "rgb(6,77,177)").attr("fill-opacity", 0.37));

// ---------- right: magnetometer stack plots ----------
const colX = { b: [590, 794], c: [840, 1047], d: [1094, 1301] };
const rowY = { x: [44, 460], y: [525, 940], z: [1015, 1430] };
const rowTimeY = { x: 475, y: 955, z: 1444 };
const bandSpan = { b: [44, 1432], c: [44, 1481], d: [44, 1432] };

const panels = [
  { row: "x", col: "b", lat: [66.98, 77.04], latLabels: 16,
    traces: [[bxSPA, RED], [bxSPAseg, RED], [bxPGG, BLUE], [bxM85, RED], [bxM85seg, RED], [bxM84, RED], [bxM84seg, RED], [bxM83, RED], [bxM83seg, RED]],
    names: [["SPA", 24.7, 76.29], ["PGG", 24.7, 73.9], ["M85", 24.7, 72.71], ["M84", 24.7, 70.97], ["M83", 24.7, 68.5]],
    arrows: [[17.6, 75.0, 74.6], [10.4, 71.46, 71.79], [11.2, 69.32, 69.97], [8.4, 67.67, 68.9]],
    circles: [[75.3, 73.78], [78.3, 72.65], [78.9, 71.66], [59.7, 69.71], [58.7, 67.47]], tsize: 16 },
  { row: "x", col: "c", lat: [67.5, 76.54], latLabels: 14,
    traces: [[bxPG2, RED], [bxPG3, RED], [bxPG4, RED], [bxPG5, RED]],
    names: [["PG2", 30.1, 75.21], ["PG3", 30.1, 74.28], ["PG4", 30.1, 72.11], ["PG5", 30.1, 69.89]],
    arrows: [], circles: [[59.3, 69.08], [79.2, 72.65]], tsize: 16 },
  { row: "x", col: "d", lat: [67.5, 76.54], latLabels: 0,
    traces: [[bxUMQ, BLUE], [bxGDH, BLUE], [bxSTF, BLUE], [bxSKTseg, BLUE], [bxSKT, BLUE]],
    names: [["UMQ", 29.6, 75.8], ["GDH", 29.6, 74.74], ["STF", 29.6, 72.02], ["SKT", 29.6, 68.8]],
    arrows: [[16, 68.36, 70.09]], circles: [[76, 69.62]], tsize: 15 },
  { row: "y", col: "b", lat: [67.9, 77.02], latLabels: 15,
    traces: [[bySPA, RED], [byPGG, BLUE], [byM85, RED], [byM84, RED], [byM83seg, RED], [byM83, RED]],
    names: [["SPA", 27.6, 75.02], ["PGG", 27.6, 73.53], ["M85", 27.6, 72.4], ["M84", 27.6, 70.23], ["M83", 26.5, 69.22]],
    arrows: [[12.3, 68.99, 69.54]], circles: [], tsize: 15 },
  { row: "y", col: "c", lat: [67.9, 77.02], latLabels: 0,
    traces: [[byPG2, RED], [byPG3, RED], [byPG4, RED], [byPG5, RED]],
    names: [["PG2", 29, 76.45], ["PG3", 29, 74.95], ["PG4", 29, 71.92], ["PG5", 29, 70.27]],
    arrows: [], circles: [[59, 72.08], [76.7, 72.63], [77.5, 71.0]], tsize: 16 },
  { row: "y", col: "d", lat: [67.9, 77.02], latLabels: 0,
    traces: [[byUMQ, BLUE], [byGDH, BLUE], [bySTF, BLUE], [bySKT, BLUE]],
    names: [["UMQ", 28.4, 76.32], ["GDH", 28.4, 75.11], ["STF", 28.4, 72.63], ["SKT", 28.4, 71.33]],
    arrows: [], circles: [], tsize: 14 },
  { row: "z", col: "b", lat: [67.9, 77.03], latLabels: 15,
    traces: [[bzSPA, RED], [bzSPAseg, RED], [bzPGG, BLUE], [bzM85, RED], [bzM84, RED], [bzM83, RED]],
    names: [["SPA", 27.6, 75.58], ["PGG", 27.6, 73.73], ["M85", 27.6, 72.55], ["M84", 27.6, 70.66], ["M83", 27.6, 68.88]],
    arrows: [[18.2, 75.05, 74.17]], circles: [], tsize: 15 },
  { row: "z", col: "c", lat: [67.9, 77.03], latLabels: 0,
    traces: [[bzPG2, RED], [bzPG3, RED], [bzPG4, RED], [bzPG5, RED]],
    names: [["PG2", 28.4, 76.1], ["PG3", 28.4, 74.85], ["PG4", 28.4, 71.14], ["PG5", 28.4, 69.71]],
    arrows: [], circles: [], tsize: 16 },
  { row: "z", col: "d", lat: [67.9, 77.03], latLabels: 0,
    traces: [[bzUMQ, BLUE], [bzGDH, BLUE], [bzSTF, BLUE], [bzSKT, BLUE]],
    names: [["UMQ", 31.3, 76.15], ["GDH", 31.3, 75.16], ["STF", 31.3, 72.81], ["SKT", 31.3, 72.0]],
    arrows: [], circles: [[57.6, 71.56], [77.9, 70.2]], tsize: 16 }
];

panels.forEach(p => {
  const [x0, x1] = colX[p.col], [y0, y1] = rowY[p.row];
  const x = d3.scaleLinear().domain([0, 120]).range([x0, x1]);
  const y = d3.scaleLinear().domain(p.lat).range([y1, y0]);
  const g = gBase.append("g");
  const line = d3.line().x(d => x(d[0])).y(d => y(d[1]));
  p.traces.forEach(([data, color]) => g.append("path").datum(data).attr("d", line)
    .attr("fill", "none").attr("stroke", color).attr("stroke-width", 2.2)
    .attr("stroke-linejoin", "round").attr("stroke-linecap", "round"));
  g.append("rect").attr("x", x0).attr("y", y0).attr("width", x1 - x0).attr("height", y1 - y0)
    .attr("fill", "none").attr("stroke", "#000").attr("stroke-width", 1.8);
  d3.range(Math.ceil(p.lat[0] * 2) / 2, p.lat[1] - 0.1, 0.5).forEach(v => {
    seg(g, x0, y(v), x0 + 8, y(v), 1.8); seg(g, x1 - 8, y(v), x1, y(v), 1.8);
  });
  d3.range(15, 120, 15).forEach(t => { seg(g, x(t), y0, x(t), y0 + 8, 1.8); seg(g, x(t), y1 - 8, x(t), y1, 1.8); });
  if (p.latLabels) latLabelValues.forEach(v => txt(g, x0 - 4, y(v) - (v === 68 && p.row !== "x" ? 2 : 0), v + "°", p.latLabels, "end"));
  timeTicks.forEach((t, i) => txt(g, x(t), rowTimeY[p.row], timeTickLabels[i], p.tsize, "middle"));
  p.names.forEach(([s, t, v]) => txt(g, x(t), y(v), s, 17, "middle"));
  p.arrows.forEach(([t, a, b]) => g.append("line").attr("x1", x(t)).attr("x2", x(t))
    .attr("y1", y(a)).attr("y2", y(b)).attr("stroke", "#000").attr("stroke-width", 2.2)
    .attr("marker-end", "url(#head)"));
  p.circles.forEach(([t, v]) => gTop.append("circle").attr("cx", x(t)).attr("cy", y(v)).attr("r", 11.5)
    .attr("fill", "none").attr("stroke", ORANGE).attr("stroke-width", 3.2));
});

Object.keys(colX).forEach(c => {
  const x = d3.scaleLinear().domain([0, 120]).range(colX[c]);
  rightBands.forEach(([a, b]) => gBand.append("rect").attr("x", x(a)).attr("width", x(b) - x(a))
    .attr("y", bandSpan[c][0]).attr("height", bandSpan[c][1] - bandSpan[c][0])
    .attr("fill", "rgb(6,77,177)").attr("fill-opacity", 0.37));
});

// row / column titles
txt(gBase, 529, 62, "Bx", 27, "middle");
txt(gBase, 540, 545, "By", 27, "middle");
txt(gBase, 551, 1020, "Bz", 27, "middle");
[[530, 252], [540, 757], [540, 1243]].forEach(([xx, yy]) =>
  txt(gBase, 0, 0, "MLAT", 16, "middle").attr("transform", `translate(${xx},${yy}) rotate(-90)`));
txt(gBase, 565, 20, "(b)", 20);
txt(gBase, 608, 20, "SPA, PGG, BAS LPM", 20);
txt(gBase, 818, 20, "(c)", 20);
txt(gBase, 903, 20, "AAL-PIP", 20);
txt(gBase, 1070, 20, "(d)", 20);
txt(gBase, 1145, 20, "Greenland", 20);
txt(gBase, 946, 1467, "UT", 21, "middle");

// ---------- tables ----------
const TF = "Lato, 'Open Sans', sans-serif";
function header(top, parts) {
  parts.forEach(([s, xx]) => txt(gBase, xx, top, s, 23, "start", TF));
}
header(1097, [["Peak Derivatives", 8], ["0100 UT", 200], ["(nT/s)", 313]]);
seg(gBase, 4, 1111, 460, 1111, 1.3);
header(1286, [["Peak", 8], ["Derivatives", 73], ["0115 UT", 201], ["(nT/s)", 313]]);
function rows(ys, vb, vc, vd) {
  stationsB.forEach((s, i) => { txt(gBase, 10, ys[i], s, 20, "start", TF); txt(gBase, 103, ys[i] - (i === 4 ? 3 : 0), vb[i].toFixed(1), 20, "start", TF); });
  stationsC.forEach((s, i) => { txt(gBase, 178, ys[i], s, 20, "start", TF); txt(gBase, 263, ys[i], vc[i].toFixed(1), 20, "start", TF); });
  stationsD.forEach((s, i) => { txt(gBase, 348, ys[i], s, 20, "start", TF); txt(gBase, 427, ys[i], vd[i].toFixed(1), 20, "start", TF); });
}
rows([1135, 1163, 1193, 1221, 1249], peak0100B, peak0100C, peak0100D);
rows([1320, 1348, 1377, 1405, 1435], peak0115B, peak0115C, peak0115D);
</script></body></html>
